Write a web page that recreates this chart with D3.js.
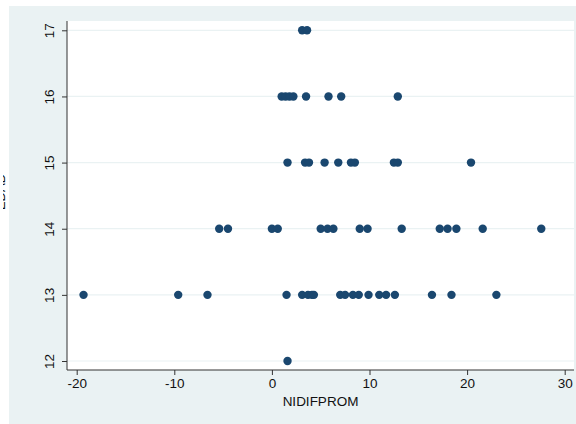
<!DOCTYPE html>
<html>
<head>
<meta charset="utf-8">
<script src="https://cdn.jsdelivr.net/npm/d3@7"></script>
<style>
  html, body { margin: 0; padding: 0; background: #ffffff; }
  svg { display: block; }
  text { font-family: "Liberation Sans", Arial, sans-serif; }
</style>
</head>
<body>
<svg id="chart" width="576" height="424"></svg>
<script>
// Data: EDAD (y) vs NIDIFPROM (x)
const edad12 = [1.6];
const edad13 = [-19.3, -9.6, -6.6, 1.5, 3.1, 3.7, 4.1, 4.3, 7.0, 7.5, 8.3, 8.9, 9.9, 11.0, 11.7, 12.6, 16.4, 18.4, 23.0];
const edad14 = [-5.4, -4.5, 0.0, 0.6, 5.0, 5.7, 6.3, 9.0, 9.8, 13.3, 17.2, 18.0, 18.9, 21.6, 27.6];
const edad15 = [1.6, 3.4, 3.8, 5.4, 6.8, 8.1, 8.5, 12.5, 12.9, 20.4];
const edad16 = [1.0, 1.4, 1.8, 2.2, 3.5, 5.8, 7.1, 12.9];
const edad17 = [3.1, 3.6];
const xTicks = [-20, -10, 0, 10, 20, 30];
const yTicks = [12, 13, 14, 15, 16, 17];
const xTitle = "NIDIFPROM";
const yTitle = "EDAD";

const groups = [
  { y: 12, xs: edad12 }, { y: 13, xs: edad13 }, { y: 14, xs: edad14 },
  { y: 15, xs: edad15 }, { y: 16, xs: edad16 }, { y: 17, xs: edad17 }
];
const points = groups.flatMap(g => g.xs.map(x => ({ x, y: g.y })));

const svg = d3.select("#chart");
const plot = { left: 67, right: 574, top: 21, bottom: 370 };

const x = d3.scaleLinear().domain([-20, 30]).range([76.7, 564.7]);
const y = d3.scaleLinear().domain([12, 17]).range([361, 30.3]);

// outer background
svg.append("rect").attr("x", 9).attr("y", 6).attr("width", 567).attr("height", 418).attr("fill", "#eaf2f3");
// plot region
svg.append("rect").attr("x", plot.left).attr("y", plot.top)
  .attr("width", plot.right - plot.left).attr("height", plot.bottom - plot.top).attr("fill", "#ffffff");

// gridlines
svg.append("g").selectAll("line").data(yTicks).join("line")
  .attr("x1", plot.left).attr("x2", plot.right)
  .attr("y1", d => y(d)).attr("y2", d => y(d))
  .attr("stroke", "#eaf2f3").attr("stroke-width", 1.2);

// axes
const yAxis = d3.axisLeft(y).tickValues(yTicks).tickSize(5).tickPadding(4).tickFormat(d => String(d));
const gy = svg.append("g").attr("transform", `translate(${plot.left},0)`).call(yAxis);
gy.select(".domain").attr("d", `M0,${plot.top}V${plot.bottom}`).attr("stroke", "#333");
gy.selectAll(".tick line").attr("stroke", "#333");
gy.selectAll(".tick text")
  .attr("transform", "rotate(-90)")
  .attr("x", 0).attr("y", -13).attr("dy", 0)
  .attr("text-anchor", "middle")
  .attr("font-size", 13.5).attr("fill", "#111")
  .style("font-family", "'Liberation Sans', Arial, sans-serif");

const xAxis = d3.axisBottom(x).tickValues(xTicks).tickSize(5).tickPadding(3).tickFormat(d => String(d));
const gx = svg.append("g").attr("transform", `translate(0,${plot.bottom})`).call(xAxis);
gx.select(".domain").attr("d", `M${plot.left},0H${plot.right}`).attr("stroke", "#333");
gx.selectAll(".tick line").attr("stroke", "#333");
gx.selectAll(".tick text").attr("font-size", 13.5).attr("fill", "#111")
  .style("font-family", "'Liberation Sans', Arial, sans-serif");

// axis titles
svg.append("text").attr("x", (plot.left + plot.right) / 2).attr("y", 406)
  .attr("text-anchor", "middle").attr("font-size", 13.5).attr("fill", "#111").text(xTitle);

svg.append("clipPath").attr("id", "yclip").append("rect")
  .attr("x", 3).attr("y", 0).attr("width", 10).attr("height", 424);
svg.append("g").attr("clip-path", "url(#yclip)")
  .append("text").attr("transform", "translate(4.5,192) rotate(-90)")
  .attr("text-anchor", "middle").attr("font-size", 13).attr("fill", "#111").text(yTitle);

// points
svg.append("g").selectAll("circle").data(points).join("circle")
  .attr("cx", d => x(d.x)).attr("cy", d => y(d.y)).attr("r", 4.2)
  .attr("fill", "#1a476f");
</script>
</body>
</html>
